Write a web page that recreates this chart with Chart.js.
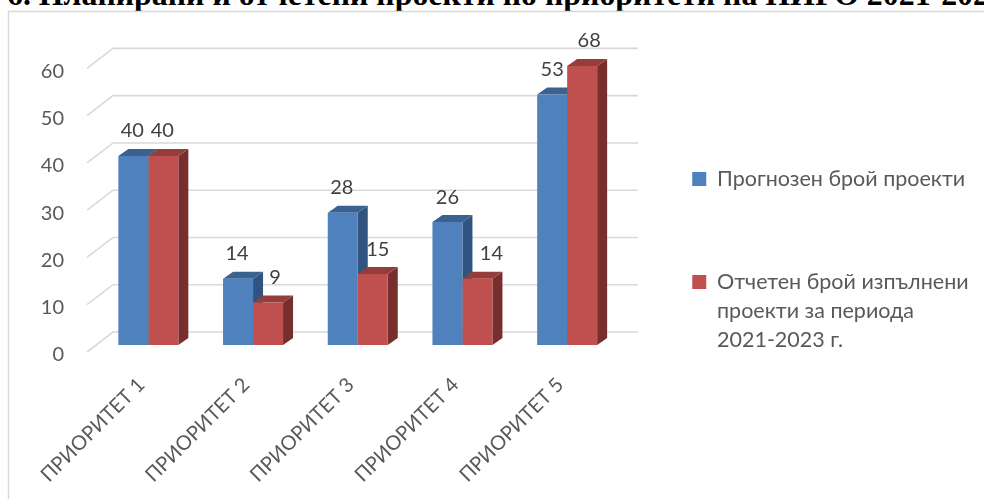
<!DOCTYPE html>
<html><head><meta charset="utf-8">
<script src="https://cdn.jsdelivr.net/npm/chart.js@4"></script>
<style>
html,body{margin:0;padding:0;background:#fff;width:984px;height:499px;overflow:hidden}
#wrap{position:relative;width:984px;height:499px;overflow:hidden}
#title{position:absolute;left:7px;top:-19px;margin:0;font:bold 31.85px/27px "Liberation Serif",serif;color:#000;white-space:nowrap}
canvas{position:absolute;left:0;top:0}
</style></head><body>
<div id="wrap">
<h1 id="title"></h1>
<canvas id="c" width="984" height="499"></canvas>
</div>
<script>
const titleText = "6. Планирани и отчетени проекти по приоритети на ПИРО 2021-2023";
const categories = ["ПРИОРИТЕТ 1","ПРИОРИТЕТ 2","ПРИОРИТЕТ 3","ПРИОРИТЕТ 4","ПРИОРИТЕТ 5"];
const seriesPlannedName = "Прогнозен брой проекти";
const seriesReportedName = ["Отчетен брой изпълнени","проекти за периода","2021-2023 г."];
const planned = [40,14,28,26,53];
const reported = [40,9,15,14,68];
const yTicks = [0,10,20,30,40,50,60];

document.getElementById('title').textContent = titleText;

const FONT = 'Lato,"Open Sans",sans-serif';
const DEPTH = {x:10, y:7};
const WALL = {frontX:-9, frontY:7, backX:17, backY:-13, rightX:18.5};
const TOP_CLIP = 4.6;
const faces = [
  {top:'#3A6291', side:'#30547F'},
  {top:'#963C3A', side:'#772F2D'}
];
const labelNudge = [[-1,-1],[-1,7],[-1,5],[0,14],[0,7]];

const decor = {
  id:'decor',
  afterLayout(chart){
    const l = chart.legend;
    l.left = 610.75; l.right = 984; l.top = 86.75; l.bottom = 499;
    l.width = 373.25; l.height = 412.25;
  },
  beforeDatasetsDraw(chart){
    const {ctx, chartArea:a, scales:{y}} = chart;
    ctx.save();
    ctx.strokeStyle='#d9d9d9'; ctx.lineWidth=1.5;
    ctx.beginPath(); ctx.moveTo(8.5,520); ctx.lineTo(8.5,11.5); ctx.lineTo(1000,11.5); ctx.stroke();
    ctx.strokeStyle='#d9d9d9'; ctx.lineWidth=1.6;
    yTicks.forEach(v=>{
      const p=y.getPixelForValue(v);
      ctx.beginPath();
      ctx.moveTo(a.left+WALL.frontX,p+WALL.frontY);
      ctx.lineTo(a.left+WALL.backX,p+WALL.backY);
      ctx.lineTo(a.right+WALL.rightX,p+WALL.backY);
      ctx.stroke();
    });
    chart.data.datasets.forEach((ds,i)=>{
      chart.getDatasetMeta(i).data.forEach(b=>{
        const t=Math.max(b.y,a.top+TOP_CLIP), L=b.x-b.width/2, R=b.x+b.width/2, B=b.base;
        ctx.fillStyle=faces[i].side;
        ctx.beginPath();ctx.moveTo(R,t);ctx.lineTo(R+DEPTH.x,t-DEPTH.y);ctx.lineTo(R+DEPTH.x,B-DEPTH.y);ctx.lineTo(R,B);ctx.closePath();ctx.fill();
        ctx.fillStyle=faces[i].top;
        ctx.beginPath();ctx.moveTo(L,t);ctx.lineTo(L+DEPTH.x,t-DEPTH.y);ctx.lineTo(R+DEPTH.x,t-DEPTH.y);ctx.lineTo(R,t);ctx.closePath();ctx.fill();
      });
    });
    ctx.restore();
  },
  afterDatasetsDraw(chart){
    const {ctx, chartArea:a} = chart;
    ctx.save();
    ctx.font='20px '+FONT; ctx.fillStyle='#404040'; ctx.textAlign='center'; ctx.textBaseline='middle';
    chart.data.datasets.forEach((ds,i)=>{
      chart.getDatasetMeta(i).data.forEach((b,j)=>{
        const t=Math.max(b.y,a.top+TOP_CLIP);
        ctx.fillText(String(ds.data[j]), b.x+labelNudge[j][i], t-25);
      });
    });
    ctx.restore();
  }
};

new Chart(document.getElementById('c'),{
  type:'bar',
  data:{labels:categories,datasets:[
    {label:seriesPlannedName,data:planned,backgroundColor:'#4F81BD',clip:{left:false,right:false,top:-TOP_CLIP,bottom:false}},
    {label:seriesReportedName,data:reported,backgroundColor:'#C0504D',clip:{left:false,right:false,top:-TOP_CLIP,bottom:false}}
  ]},
  options:{
    responsive:false,animation:false,
    layout:{padding:{top:61.4,right:364.5,left:0,bottom:0}},
    datasets:{bar:{categoryPercentage:0.573,barPercentage:1,borderWidth:0}},
    plugins:{
      title:{display:false},tooltip:{enabled:false},
      legend:{
        position:'chartArea',align:'start',
        labels:{boxWidth:14,boxHeight:14,padding:81.5,color:'#595959',font:{family:FONT,size:21.5,lineHeight:1.35}}
      }
    },
    scales:{
      x:{
        grid:{display:false},border:{display:false},
        afterFit(s){s.height=154;},
        ticks:{color:'#595959',font:{family:FONT,size:20},minRotation:45,maxRotation:45,padding:20,labelOffset:-7,autoSkip:false}
      },
      y:{
        min:0,max:60,
        grid:{display:false},border:{display:false},
        afterFit(s){s.width=96;},
        afterBuildTicks(s){s.ticks=yTicks.map(v=>({value:v}));},
        ticks:{color:'#595959',font:{family:FONT,size:20},padding:24,labelOffset:10}
      }
    }
  },
  plugins:[decor]
});
</script>
</body></html>
